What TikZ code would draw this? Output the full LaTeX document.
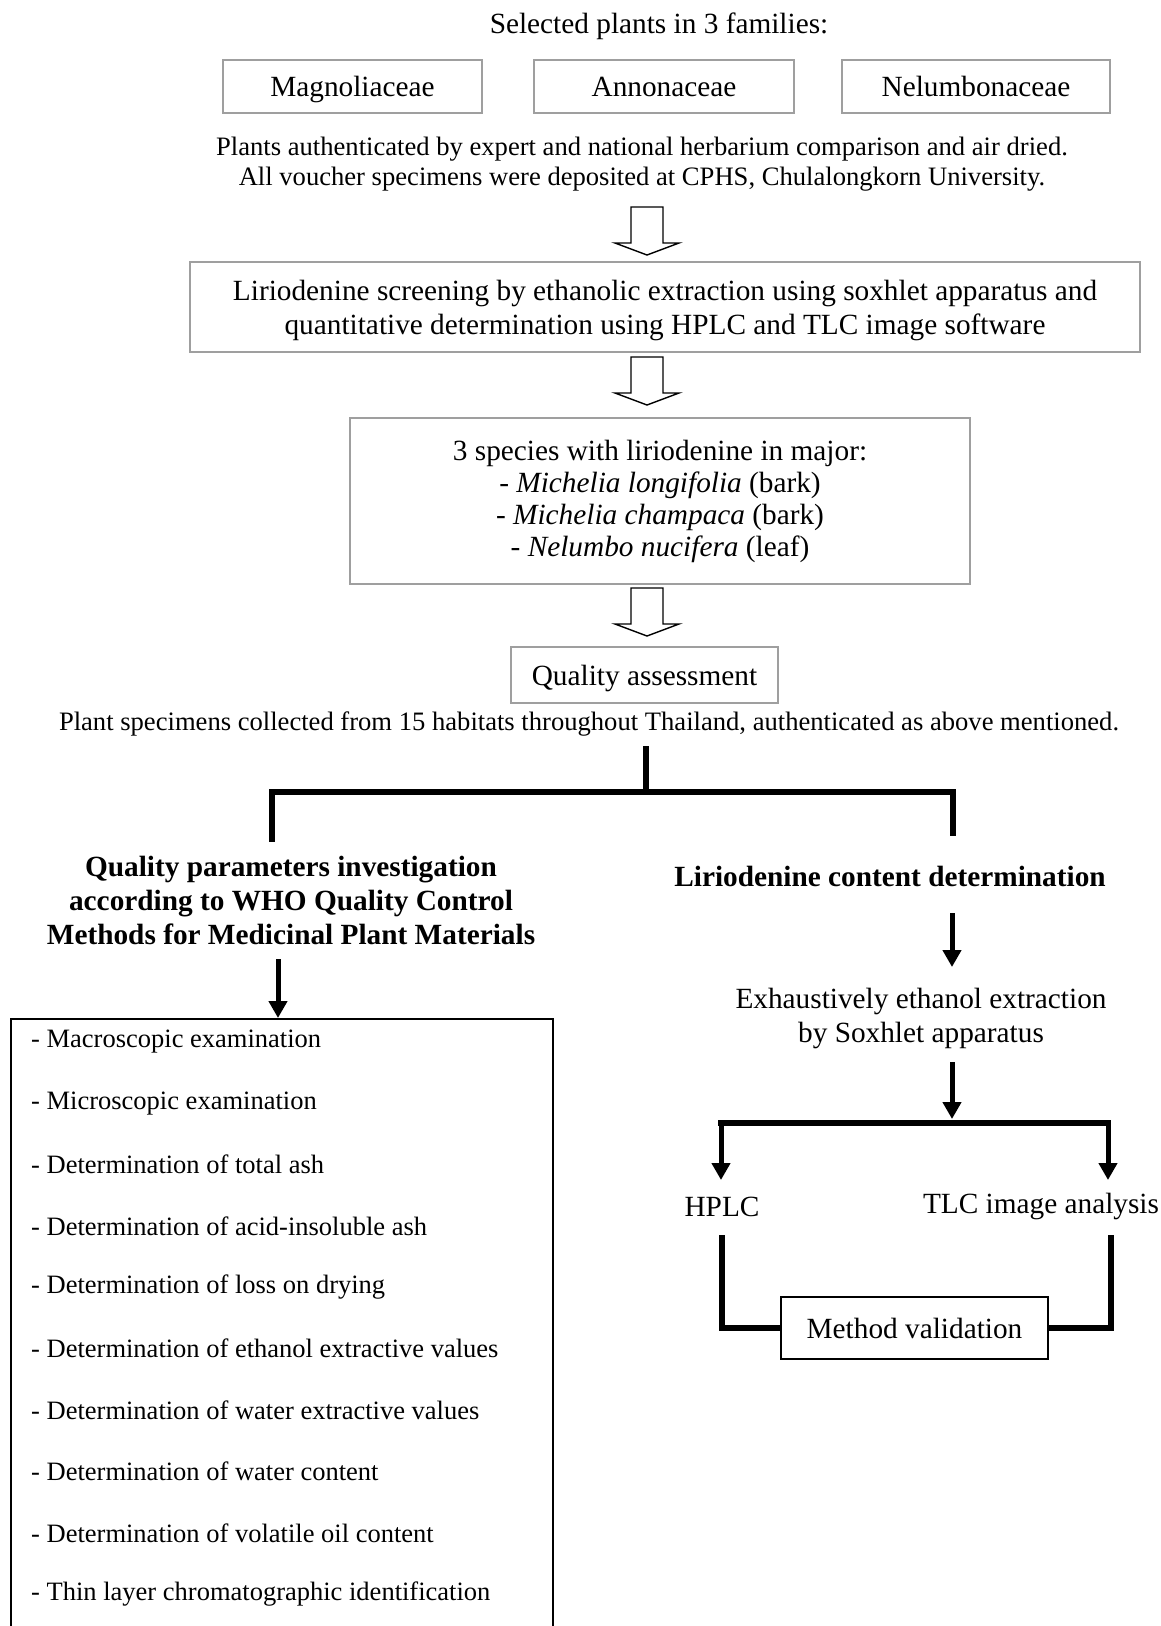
\documentclass[tikz,border=0pt]{standalone}
\usepackage{fontspec}
\setmainfont{Liberation Serif}
\usetikzlibrary{arrows.meta}
\tikzset{
  txt/.style={font=\fontsize{29.3}{34}\selectfont, align=center, inner sep=0pt},
  smalltxt/.style={font=\fontsize{26.6}{30}\selectfont, align=center, inner sep=0pt},
  itemtxt/.style={font=\fontsize{26.5}{30}\selectfont, anchor=west, inner sep=0pt},
  graybox/.style={draw=gray!75, line width=1.6pt, font=\fontsize{29.3}{34}\selectfont, align=center, inner sep=0pt},
  blackbox/.style={draw=black, line width=1.8pt, font=\fontsize{29.3}{34}\selectfont, align=center, inner sep=0pt},
  thick line/.style={line width=6pt},
  arr/.style={line width=5pt, -{Triangle[width=18pt,length=17pt]}},
  harrow/.pic={\draw[line width=1.4pt, line join=miter] (-16,0) -- (-16,36) -- (-32,36) -- (0,48) -- (32,36) -- (16,36) -- (16,0) -- cycle;}
}
\begin{document}
\begin{tikzpicture}[x=1pt,y=-1pt]
\useasboundingbox (0,0) rectangle (1161,1626);
\fill[white] (0,0) rectangle (1161,1626);

\node[txt] (title) at (659,26) {Selected plants in 3 families:};
\node[graybox, text height=20pt, text depth=0pt, minimum width=259pt, minimum height=53pt] (mag) at (352.5,86.5) {Magnoliaceae};
\node[graybox, text height=20pt, text depth=0pt, minimum width=260pt, minimum height=53pt] (ann) at (664,86.5) {Annonaceae};
\node[graybox, text height=20pt, text depth=0pt, minimum width=268pt, minimum height=53pt] (nel) at (976,86.5) {Nelumbonaceae};

\node[smalltxt] (auth) at (642,164) {Plants authenticated by expert and national herbarium comparison and air dried.\\All voucher specimens were deposited at CPHS, Chulalongkorn University.};

\pic (h1) at (647,207) {harrow};

\node[graybox, text depth=0pt, minimum width=950pt, minimum height=90pt] (screen) at (665,307) {Liriodenine screening by ethanolic extraction using soxhlet apparatus and\\quantitative determination using HPLC and TLC image software};

\pic (h2) at (647,357) {harrow};

\node[graybox, minimum width=620pt, minimum height=166pt, font=\fontsize{29.3}{32}\selectfont] (species) at (660,501) {3 species with liriodenine in major:\\- \textit{Michelia longifolia} (bark)\\- \textit{Michelia champaca} (bark)\\- \textit{Nelumbo nucifera} (leaf)};

\pic (h3) at (647,588) {harrow};

\node[graybox, text depth=0pt, minimum width=267pt, minimum height=56pt] (qa) at (644.5,675) {Quality assessment};

\node[smalltxt] (spec) at (589,724) {Plant specimens collected from 15 habitats throughout Thailand, authenticated as above mentioned.};

% bracket
\coordinate (stemtop) at (646,746);
\coordinate (stembot) at (646,792);
\coordinate (bl) at (272,792);
\coordinate (br) at (953,792);
\coordinate (blb) at (272,839);
\coordinate (brb) at (953,833);
\draw[thick line] (stemtop) -- (stembot);
\draw[thick line, line cap=rect] (blb) -- (bl) -- (br) -- (brb);

% left column
\node[txt, font=\bfseries\fontsize{29.3}{34}\selectfont] (qp) at (291,900) {Quality parameters investigation\\according to WHO Quality Control\\Methods for Medicinal Plant Materials};
\node[draw, line width=2pt, minimum width=542pt, minimum height=700pt, anchor=north west, inner sep=0pt] (listbox) at (10,1018) {};
\coordinate (la1) at (278,959);
\draw[arr] (la1) -- ([xshift=268pt]listbox.north west);

\foreach \t [count=\i] in {
 {- Macroscopic examination},
 {- Microscopic examination},
 {- Determination of total ash},
 {- Determination of acid-insoluble ash},
 {- Determination of loss on drying},
 {- Determination of ethanol extractive values},
 {- Determination of water extractive values},
 {- Determination of water content},
 {- Determination of volatile oil content},
 {- Thin layer chromatographic identification}}
 \node[itemtxt] (item\i) at (31,{1042+61.35*(\i-1)}) {\t};

% right column
\node[txt, font=\bfseries\fontsize{29.3}{34}\selectfont] (lcd) at (890,876) {Liriodenine content determination};
\coordinate (ra1s) at (952,913);
\coordinate (ra1e) at (952,967);
\draw[arr] (ra1s) -- (ra1e);
\node[txt] (ext) at (921,1018) {Exhaustively ethanol extraction\\by Soxhlet apparatus};
\coordinate (ra2s) at (952,1062);
\coordinate (ra2e) at (952,1119);
\draw[arr] (ra2s) -- (ra2e);

\node[txt] (hplc) at (722,1207) {HPLC};
\node[txt] (tlc) at (1041,1206) {TLC image analysis};

\coordinate (hl) at (721,1123);
\coordinate (hr) at (1108,1123);
\draw[line width=6pt, line join=miter, line cap=rect] (hl) -- (hr);
\draw[arr] (hl) -- (721,1180);
\draw[arr] (hr) -- (1108,1180);

\node[blackbox, minimum width=267pt, minimum height=62pt] (mv) at (914.5,1328) {Method validation};
\coordinate (hplcb) at (722,1235);
\coordinate (tlcb) at (1111,1235);
\draw[thick line, line join=miter] (hplcb) |- (mv.west);
\draw[thick line, line join=miter] (tlcb) |- (mv.east);
\end{tikzpicture}
\end{document}
